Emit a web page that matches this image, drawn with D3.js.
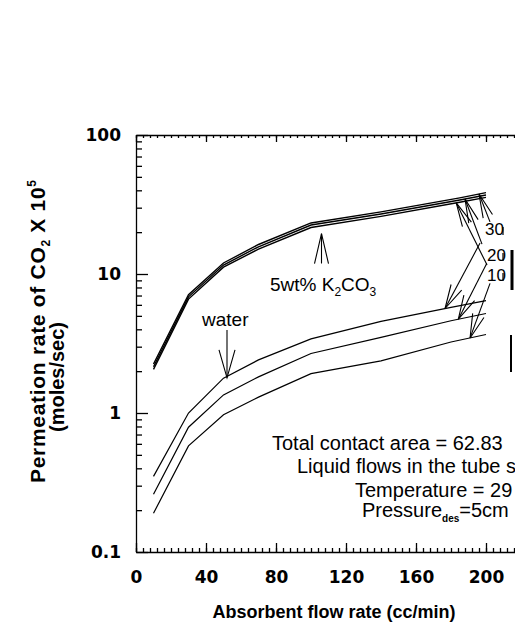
<!DOCTYPE html>
<html>
<head>
<meta charset="utf-8">
<script src="https://cdn.jsdelivr.net/npm/d3@7"></script>
<style>
  body { margin: 0; background: #fff; }
  svg text { font-family: "Liberation Sans", Arial, sans-serif; fill: #000; }
</style>
</head>
<body>
<div class="chart"></div>
<script>
// ---- data ----
// absorbent flow rate (cc/min)
var waterFlow = [10, 30, 50, 70, 100, 140, 180, 200];
var k2co3Flow = [10, 30, 50, 70, 100, 140, 185, 200];

// permeation rate of CO2 x 10^5 (moles/sec), water absorbent
var water30 = [0.35, 1.0, 1.78, 2.41, 3.41, 4.56, 5.76, 6.43];
var water20 = [0.26, 0.79, 1.35, 1.82, 2.68, 3.5, 4.61, 5.2];
var water10 = [0.19, 0.58, 0.97, 1.3, 1.92, 2.37, 3.24, 3.67];

// 5 wt% K2CO3 absorbent
var k2co3_30 = [2.25, 7.1, 12.0, 16.3, 23.3, 28.0, 35.3, 38.5];
var k2co3_20 = [2.15, 6.85, 11.6, 15.7, 22.5, 27.0, 34.1, 37.0];
var k2co3_10 = [2.06, 6.6, 11.2, 15.1, 21.6, 26.0, 32.8, 35.6];

var seriesLabels = ["30", "20", "10"];

// ticks
var xMajorTicks = [0, 40, 80, 120, 160, 200];
var xMinorTicks = d3.range(0, 221, 4);
var yMajorTicks = [0.1, 1, 10, 100];
var yMinorTicks = [];
[0.1, 1, 10].forEach(function(dec) {
    for (var m = 2; m <= 9; m++) yMinorTicks.push(+(dec * m).toPrecision(3));
});

// the figure is cropped on the right, so only this much of the note shows
var infoLines = ["Total contact area = 62.83", "Liquid flows in the tube s",
                 "Temperature = 29"];

// ---- svg ----
var svgWidth = 515;
var svgHeight = 626;

var plot = { left: 136, right: 521, top: 135, bottom: 552 };

var svg = d3.select(".chart")
    .append("svg")
    .attr("width", svgWidth)
    .attr("height", svgHeight);

var x = d3.scaleLinear().domain([0, 220]).range([plot.left, plot.right]);
var y = d3.scaleLog().domain([0.1, 100]).range([plot.bottom, plot.top]);

function styleAxis(g) {
    g.selectAll("path, line").attr("stroke", "#000").attr("stroke-width", 1.3);
    g.attr("font-family", null).attr("font-size", null);
}

// bottom axis, majors with labels
svg.append("g")
    .attr("transform", `translate(0, ${plot.bottom})`)
    .call(d3.axisBottom(x).tickValues(xMajorTicks).tickSizeInner(-9).tickSizeOuter(0)
        .tickPadding(19).tickFormat(d3.format("d")))
    .call(styleAxis)
    .selectAll("text")
    .style("font-family", "'DejaVu Sans', sans-serif")
    .style("font-weight", "bold")
    .style("font-size", "17px");

svg.append("g")
    .attr("transform", `translate(0, ${plot.bottom})`)
    .call(d3.axisBottom(x).tickValues(xMinorTicks).tickSize(-4).tickFormat(""))
    .call(styleAxis)
    .select(".domain").remove();

// top axis
svg.append("g")
    .attr("transform", `translate(0, ${plot.top})`)
    .call(d3.axisTop(x).tickValues(xMajorTicks).tickSizeInner(-7).tickSizeOuter(0).tickFormat(""))
    .call(styleAxis);

svg.append("g")
    .attr("transform", `translate(0, ${plot.top})`)
    .call(d3.axisTop(x).tickValues(xMinorTicks).tickSize(-3).tickFormat(""))
    .call(styleAxis)
    .select(".domain").remove();

// left axis
svg.append("g")
    .attr("transform", `translate(${plot.left}, 0)`)
    .call(d3.axisLeft(y).tickValues(yMajorTicks).tickSizeInner(-12).tickSizeOuter(0)
        .tickPadding(15).tickFormat(function(d) { return String(d); }))
    .call(styleAxis)
    .selectAll("text")
    .style("font-family", "'DejaVu Sans', sans-serif")
    .style("font-weight", "bold")
    .style("font-size", "17px");

svg.append("g")
    .attr("transform", `translate(${plot.left}, 0)`)
    .call(d3.axisLeft(y).tickValues(yMinorTicks).tickSize(-6).tickFormat(""))
    .call(styleAxis)
    .select(".domain").remove();

// ---- curves ----
var line = d3.line()
    .x(function(d) { return x(d[0]); })
    .y(function(d) { return y(d[1]); });

var k2co3Series = [k2co3_30, k2co3_20, k2co3_10];
var waterSeries = [water30, water20, water10];

k2co3Series.forEach(function(vals) {
    svg.append("path")
        .datum(d3.zip(k2co3Flow, vals))
        .attr("d", line)
        .attr("fill", "none")
        .attr("stroke", "#000")
        .attr("stroke-width", 1.4);
});

waterSeries.forEach(function(vals) {
    svg.append("path")
        .datum(d3.zip(waterFlow, vals))
        .attr("d", line)
        .attr("fill", "none")
        .attr("stroke", "#000")
        .attr("stroke-width", 1.2);
});

// value on a series at a given flow rate (straight segments in log space)
function onCurve(xs, vs, xv) {
    var i = d3.bisectRight(xs, xv) - 1;
    i = Math.max(0, Math.min(i, xs.length - 2));
    var t = (xv - xs[i]) / (xs[i + 1] - xs[i]);
    return Math.pow(10, Math.log10(vs[i]) + t * (Math.log10(vs[i + 1]) - Math.log10(vs[i])));
}

// open "V" arrow from tail to tip, pixel coords
function arrow(x1, y1, x2, y2, headLen, headHalf) {
    var dx = x2 - x1, dy = y2 - y1, len = Math.hypot(dx, dy);
    var ux = dx / len, uy = dy / len;
    var bx = x2 - ux * headLen, by = y2 - uy * headLen;
    var px = -uy, py = ux;
    var g = svg.append("g").attr("stroke", "#000").attr("fill", "none").attr("stroke-width", 1.1);
    g.append("line").attr("x1", x1).attr("y1", y1).attr("x2", x2).attr("y2", y2);
    g.append("path").attr("d", `M${bx + px * headHalf},${by + py * headHalf}L${x2},${y2}L${bx - px * headHalf},${by - py * headHalf}`);
}

// K2CO3 label + arrow
var k2Label = svg.append("text").attr("x", 270).attr("y", 291).style("font-size", "19px");
k2Label.append("tspan").text("5wt% K");
k2Label.append("tspan").attr("dy", 5).style("font-size", "12px").text("2");
k2Label.append("tspan").attr("dy", -5).text("CO");
k2Label.append("tspan").attr("dy", 5).style("font-size", "12px").text("3");
arrow(x(106), y(11.9), x(106), y(19.5), 30, 7);

// water label + arrow
svg.append("text").attr("x", 202).attr("y", 326).style("font-size", "19px").text("water");
arrow(x(52), y(3.95), x(52), y(1.79), 28, 8);

// series labels at right with arrows to both curves
var labelPos = [[485, 235], [487, 261], [487, 281]];
labelPos.forEach(function(p, i) {
    svg.append("text").attr("x", p[0]).attr("y", p[1]).style("font-size", "17px").text(seriesLabels[i]);
    svg.append("line").attr("x1", 503).attr("x2", 503).attr("y1", p[1] - 8).attr("y2", p[1])
        .attr("stroke", "#000").attr("stroke-width", 1.2);
});

var kTipFlow = [196, 188, 183];
var kTail = [[202.3, 23.7], [197.7, 16.4], [200.6, 11.6]];
var wTipFlow = [176.6, 184.2, 190.9];
var wTail = [[196.6, 16.7], [200.4, 11.9], [202.3, 8.57]];

k2co3Series.forEach(function(vals, i) {
    arrow(x(kTail[i][0]), y(kTail[i][1]), x(kTipFlow[i]), y(onCurve(k2co3Flow, vals, kTipFlow[i])), 24, 5);
});
waterSeries.forEach(function(vals, i) {
    arrow(x(wTail[i][0]), y(wTail[i][1]), x(wTipFlow[i]), y(onCurve(waterFlow, vals, wTipFlow[i])), 24, 6);
});

// cut-off marks at the right edge
svg.append("line").attr("x1", 512).attr("x2", 512).attr("y1", 250).attr("y2", 290)
    .attr("stroke", "#000").attr("stroke-width", 3);
svg.append("line").attr("x1", 511).attr("x2", 511).attr("y1", 335).attr("y2", 372)
    .attr("stroke", "#000").attr("stroke-width", 2);

// info text block
var infoPos = [[272, 450], [297, 473], [355, 497]];
infoLines.forEach(function(t, i) {
    svg.append("text").attr("x", infoPos[i][0]).attr("y", infoPos[i][1]).style("font-size", "20px").text(t);
});
var pres = svg.append("text").attr("x", 362).attr("y", 517).style("font-size", "20px");
pres.append("tspan").text("Pressure");
pres.append("tspan").attr("dy", 5).style("font-size", "10px").style("font-weight", "bold").text("des");
pres.append("tspan").attr("dy", -5).text("=5cm");

// axis titles
svg.append("text")
    .attr("x", 334).attr("y", 618)
    .attr("text-anchor", "middle")
    .style("font-weight", "bold")
    .style("font-size", "18px")
    .text("Absorbent flow rate (cc/min)");

var yTitle = svg.append("text")
    .attr("transform", "translate(45, 483) rotate(-90)")
    .style("font-weight", "bold")
    .style("font-size", "21px")
    .style("letter-spacing", "0.7px");
yTitle.append("tspan").text("Permeation rate of CO");
yTitle.append("tspan").attr("dy", 5).style("font-size", "12px").text("2");
yTitle.append("tspan").attr("dy", -5).text(" X 10");
yTitle.append("tspan").attr("dy", -9).style("font-size", "12px").text("5");

svg.append("text")
    .attr("transform", "translate(64, 377) rotate(-90)")
    .attr("text-anchor", "middle")
    .style("font-weight", "bold")
    .style("font-size", "20px")
    .text("(moles/sec)");
</script>
</body>
</html>
